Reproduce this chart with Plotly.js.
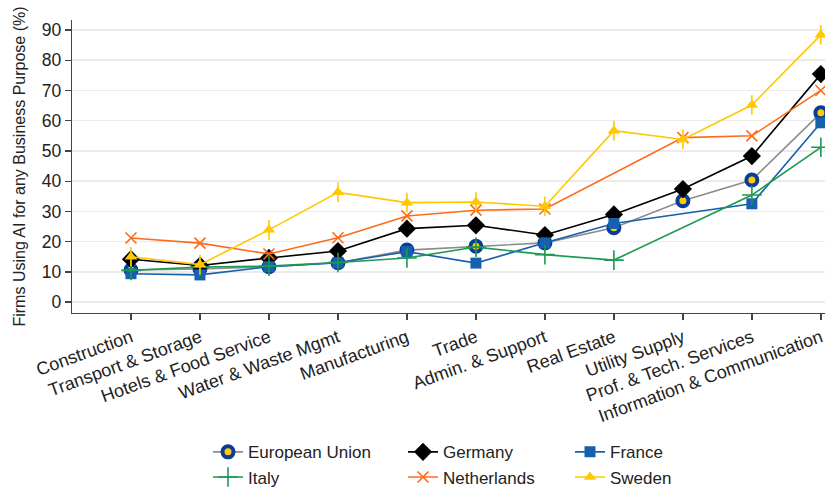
<!DOCTYPE html>
<html>
<head>
<meta charset="utf-8">
<script src="https://cdn.plot.ly/plotly-3.0.1.min.js"></script>
<style>html,body{margin:0;padding:0;background:#fff;}#chart{width:825px;height:493px;}</style>
</head>
<body>
<div id="chart"></div>
<script>
var categories = ["Construction", "Transport & Storage", "Hotels & Food Service", "Water & Waste Mgmt",
  "Manufacturing", "Trade", "Admin. & Support", "Real Estate", "Utility Supply",
  "Prof. & Tech. Services", "Information & Communication"];
var euValues          = [10.6, 11.0, 11.7, 13.0, 17.2, 18.5, 19.6, 24.6, 33.5, 40.4, 62.6];
var germanyValues     = [14.2, 12.1, 14.6, 16.9, 24.3, 25.4, 22.2, 29.0, 37.4, 48.3, 75.4];
var franceValues      = [9.4, 9.0, 11.7, 13.0, 16.7, 12.9, 19.6, 26.0, null, 32.5, 59.3];
var italyValues       = [10.5, 11.6, 11.9, 13.1, 14.6, 18.2, 15.7, 13.9, null, 35.4, 51.2];
var netherlandsValues = [21.2, 19.5, 15.9, 21.3, 28.5, 30.4, 30.8, null, 54.4, 55.0, 70.0];
var swedenValues      = [15.0, 12.4, 23.9, 36.3, 32.9, 33.1, 31.7, 56.7, 53.8, 65.2, 88.4];
var yTickValues = [0, 10, 20, 30, 40, 50, 60, 70, 80, 90];

var FONT = "Liberation Sans, Arial, sans-serif";

function tr(name, y, lineColor, marker, legendId) {
  return {
    type: "scatter", mode: "lines+markers", name: name,
    x: categories, y: y, connectgaps: true,
    line: {color: lineColor, width: 1.6},
    marker: marker, legend: legendId, legendgroup: name
  };
}

var traces = [
  tr("European Union", euValues, "#8c8c8c",
     {symbol: "circle", size: 11, color: "#ffcc00", line: {color: "#0a3d99", width: 4}}, "legend"),
  tr("Germany", germanyValues, "#000000",
     {symbol: "diamond", size: 14, color: "#000000"}, "legend2"),
  tr("France", franceValues, "#1660ad",
     {symbol: "square", size: 11, color: "#1660ad"}, "legend3"),
  tr("Italy", italyValues, "#1b9a50",
     {symbol: "cross-thin", size: 14, color: "#1b9a50", line: {color: "#1b9a50", width: 1.6}}, "legend"),
  tr("Netherlands", netherlandsValues, "#ff6a1a",
     {symbol: "x-thin", size: 11, color: "#ff6a1a", line: {color: "#ff6a1a", width: 1.6}}, "legend2"),
  tr("Sweden", swedenValues, "#ffc800",
     {symbol: "triangle-up", size: 11, color: "#ffc800"}, "legend3")
];
// stem under Sweden triangles
traces.push({
  type: "scatter", mode: "markers", x: categories, y: swedenValues, showlegend: false, hoverinfo: "skip",
  marker: {symbol: "line-ns", size: 14, color: "#ffc800", line: {color: "#ffc800", width: 1.6}},
  legend: "legend3"
});

function px2paper(px) { return (px - 72) / 753; }
var legendBase = {orientation: "v", xanchor: "left", yanchor: "top", y: -0.414,
  font: {family: FONT, size: 17, color: "#222"}, bgcolor: "rgba(0,0,0,0)",
  traceorder: "grouped", tracegroupgap: 0, itemclick: false};

var layout = {
  width: 825, height: 493,
  paper_bgcolor: "#ffffff", plot_bgcolor: "#ffffff",
  margin: {l: 72, r: 0, t: 20, b: 180, autoexpand: false},
  font: {family: FONT, color: "#222"},
  xaxis: {
    type: "category", range: [-0.855, 10.06], tickangle: -20, automargin: false,
    showgrid: false, zeroline: false, showline: true, linecolor: "#444", linewidth: 1.3,
    ticks: "outside", ticklen: 6, tickcolor: "#444", tickwidth: 1.3,
    tickfont: {family: FONT, size: 18, color: "#222"}
  },
  yaxis: {
    range: [-3.6, 93.3], tickvals: yTickValues, ticktext: yTickValues.map(String), automargin: false,
    showgrid: true, gridcolor: "#ebebeb", gridwidth: 1.5, zeroline: false,
    showline: true, linecolor: "#444", linewidth: 1.3,
    ticks: "outside", ticklen: 6, tickcolor: "#444", tickwidth: 1.3,
    tickfont: {family: FONT, size: 17.5, color: "#222"},
    title: {text: "Firms Using AI for any Business Purpose (%)", font: {family: FONT, size: 16, color: "#222"}, standoff: 12}
  },
  legend: Object.assign({}, legendBase, {x: px2paper(208)}),
  legend2: Object.assign({}, legendBase, {x: px2paper(403)}),
  legend3: Object.assign({}, legendBase, {x: px2paper(570)}),
  showlegend: true
};

Plotly.newPlot("chart", traces, layout, {displayModeBar: false, staticPlot: true});
</script>
</body>
</html>
